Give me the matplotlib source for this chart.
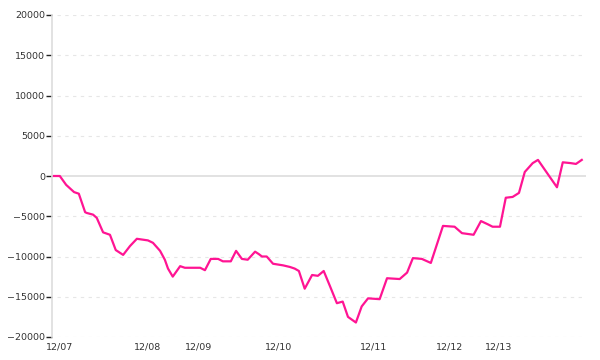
import matplotlib
matplotlib.use("Agg")
import matplotlib.pyplot as plt

# cumulative profit (x = sample position, y = value)
pos = [0, 1.1, 2.3, 3.8, 4.7, 5.9, 6.25, 7.4, 8.1, 9.3, 10.6, 11.7, 13.1, 14.4,
       15.7, 17.8, 18.75, 20.1, 21.0, 21.6, 22.5, 23.9, 24.8, 27.7, 28.6, 29.7,
       31.1, 32.0, 33.5, 34.5, 35.6, 36.7, 38.1, 38.8, 39.4, 40.3, 41.5, 43.4,
       44.7, 45.6, 46.4, 47.5, 48.9, 50.0, 51.1, 52.3, 53.6, 54.7, 55.7, 57.2,
       58.3, 59.5, 61.7, 63.1, 65.5, 66.9, 68.0, 69.7, 71.4, 73.7, 75.9, 77.3,
       79.5, 80.9, 82.2, 83.1, 84.5, 85.6, 86.9, 88.1, 89.2, 90.7, 91.7, 95.3,
       96.4, 97.9, 98.9, 100]
profit = [0, 0, -1100, -2000, -2200, -4500, -4600, -4800, -5200, -7000, -7300,
          -9200, -9800, -8700, -7800, -8000, -8300, -9300, -10400, -11500,
          -12500, -11200, -11400, -11400, -11700, -10300, -10300, -10600,
          -10600, -9300, -10300, -10400, -9400, -9700, -10000, -10000, -10900,
          -11100, -11300, -11500, -11800, -14000, -12300, -12400, -11800,
          -13700, -15800, -15600, -17500, -18200, -16200, -15200, -15300,
          -12700, -12800, -12000, -10200, -10300, -10800, -6200, -6300, -7100,
          -7300, -5600, -6000, -6300, -6300, -2700, -2600, -2100, 500, 1600,
          2000, -1400, 1700, 1600, 1500, 2000]

day_pos = [1.0, 17.7, 27.4, 42.6, 60.6, 74.9, 84.3]
day_labels = ["12/07", "12/08", "12/09", "12/10", "12/11", "12/12", "12/13"]
y_ticks = [-20000, -15000, -10000, -5000, 0, 5000, 10000, 15000, 20000]

fig = plt.figure(figsize=(6, 3.6), dpi=100)
ax = fig.add_axes([52 / 600, 1 - 337 / 360, 534 / 600, 322 / 360])

for v in y_ticks:
    if v == 0:
        ax.axhline(v, color="#dddddd", lw=1.2, zorder=1)
    else:
        ax.axhline(v, xmin=0.01, color="#e6e6e6", lw=0.8, ls=(0, (3, 4)), zorder=1)

ax.plot(pos, profit, color="#ff1493", lw=1.6, zorder=3)

ax.set_xlim(-0.38, 100.8)
ax.set_ylim(-20000, 20000)
ax.set_yticks(y_ticks)
ax.set_yticklabels([str(v).replace("-", "\u2212") for v in y_ticks])
ax.set_xticks(day_pos)
ax.set_xticklabels(day_labels)

for s in ["top", "right", "bottom"]:
    ax.spines[s].set_visible(False)
ax.spines["left"].set_color("#dddddd")
ax.spines["left"].set_linewidth(1.2)

ax.tick_params(axis="y", length=4, width=1, color="#222222", pad=1,
               labelsize=6.8, labelcolor="#333333")
ax.tick_params(axis="x", length=0, pad=4, labelsize=6.8, labelcolor="#333333")

fig.savefig("out.png", dpi=100)
